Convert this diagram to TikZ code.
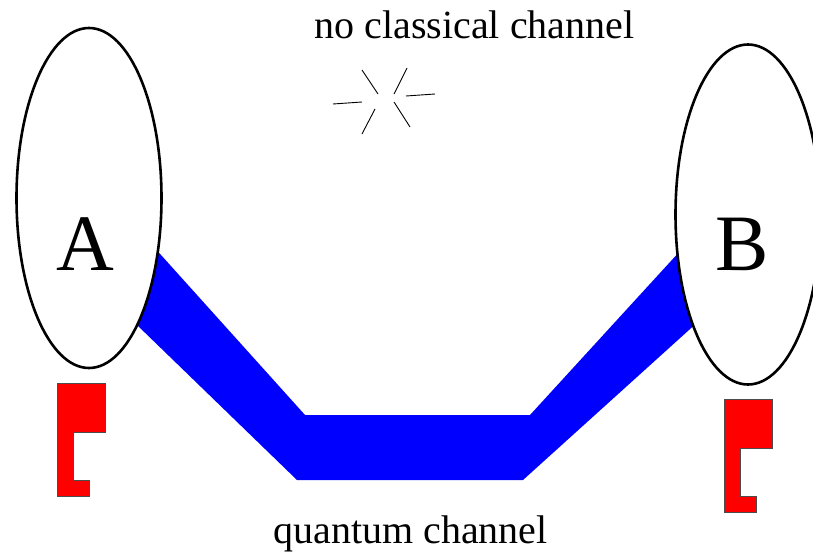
\documentclass[tikz,border=0pt]{standalone}
\usepackage{fontspec}
\setmainfont{Liberation Serif}
\usetikzlibrary{shapes.geometric}
\tikzset{
  party/.style={draw=black,line width=2.6pt,fill=white,ellipse,minimum width=145pt,minimum height=340pt,inner sep=0pt},
  channel/.style={fill=blue,draw=none},
  detector/.style={fill=red,draw=black!70,line width=0.8pt},
  spark/.style={draw=black,line width=0.9pt},
  biglabel/.style={anchor=base,font=\fontsize{80}{90}\selectfont,inner sep=0pt},
  caption/.style={anchor=base,font=\fontsize{40}{48}\selectfont,inner sep=0pt}
}
\begin{document}
\begin{tikzpicture}[x=1pt,y=-1pt]
\useasboundingbox (0,0) rectangle (813,553);
\fill[channel] (143,235) -- (305,415) -- (530,415) -- (692,238) -- (710,311) -- (523,480) -- (297,480) -- (121,309.5) -- cycle;
\node[party] (ellA) at (89,198) {};
\node[party] (ellB) at (748,214.5) {};
\node[biglabel] (labA) at (85.7,270.7) {A};
\node[biglabel] (labB) at (742.3,270.7) {B};
\draw[detector] (57,383) -- (105,383) -- (105,432) -- (73,432) -- (73,480) -- (89,480) -- (89,496) -- (57,496) -- cycle;
\draw[detector] (724,399) -- (772,399) -- (772,448) -- (740,448) -- (740,496) -- (756,496) -- (756,512) -- (724,512) -- cycle;
\draw[spark] (362,70) -- (378,94);
\draw[spark] (407,68) -- (394,94);
\draw[spark] (406,96) -- (435,94);
\draw[spark] (333,104) -- (362,102);
\draw[spark] (375,109) -- (362,134);
\draw[spark] (394,102) -- (410,127);
\node[caption] (top) at (474.5,38.5) {no classical channel};
\node[caption] (bot) at (410.5,543) {quantum channel};
\end{tikzpicture}
\end{document}
